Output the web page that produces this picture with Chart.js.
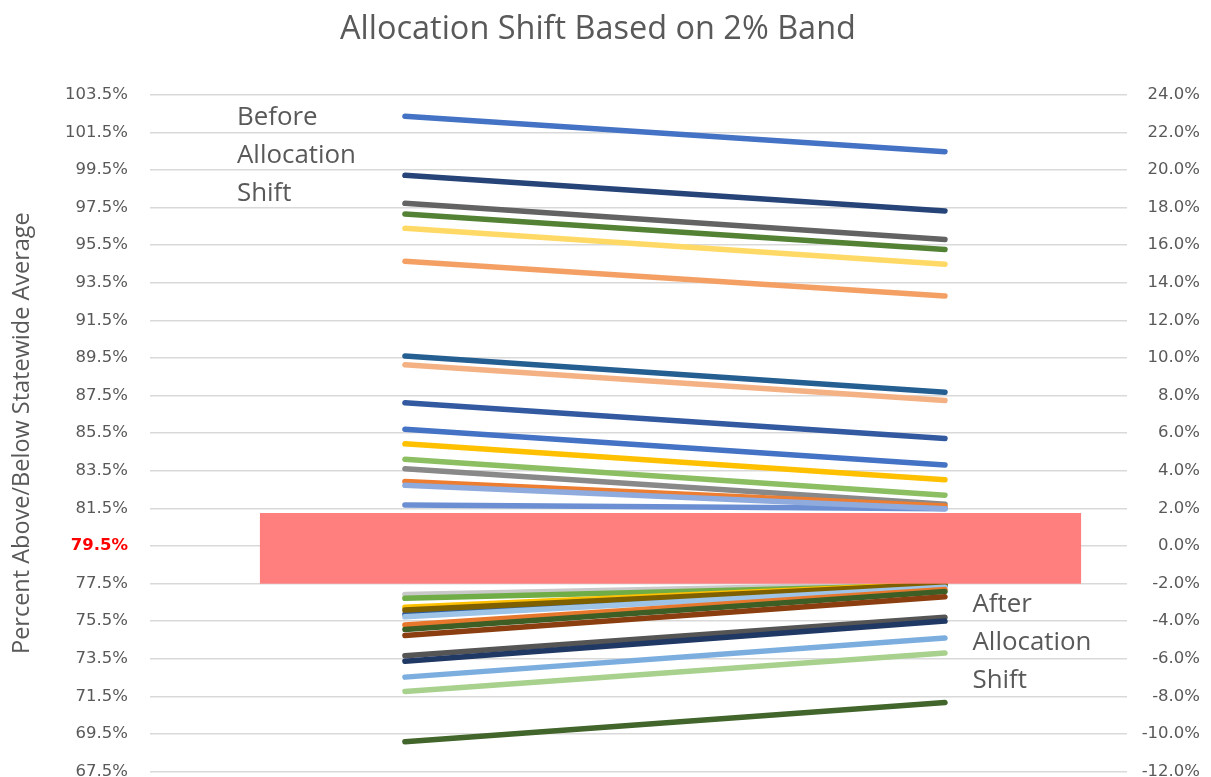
<!DOCTYPE html>
<html><head><meta charset="utf-8">
<script src="https://cdn.jsdelivr.net/npm/chart.js@4"></script>
<style>
html,body{margin:0;padding:0;overflow:hidden;background:#fff;width:1211px;height:777px}
#c{position:absolute;left:0;top:0;width:1211px;height:777px}
</style>
</head><body><canvas id="c" width="1211" height="777"></canvas>
<script>
// ---- data ----
const categories = ['Before Allocation Shift', 'After Allocation Shift'];
const chartTitle = 'Allocation Shift Based on 2% Band';
const yAxisTitle = 'Percent Above/Below Statewide Average';
// values on the left axis (percent of statewide average), listed in drawing order (later on top)
const beforeValues = [
  102.36, 99.21, 97.72, 97.16, 96.39, 94.64, 89.60, 89.14, 87.12, 85.71, 84.93, 84.11, 83.61, 82.93, 81.68, 82.72,
  76.92, 76.71, 76.24, 75.86, 76.09, 75.73, 75.29, 75.05, 74.73, 73.66, 73.36, 72.52, 71.76, 69.08
];
const afterValues = [
  100.47, 97.32, 95.80, 95.26, 94.48, 92.79, 87.67, 87.23, 85.21, 83.80, 83.02, 82.20, 81.72, 81.62, 81.48, 81.48,
  77.50, 77.42, 77.50, 77.38, 77.47, 77.30, 77.18, 77.08, 76.80, 75.71, 75.50, 74.60, 73.80, 71.17
];
const seriesColors = [
  '#4472C4', '#264478', '#636363', '#548235', '#FFD966', '#F4A064', '#255E91', '#F4B183', '#3359A1', '#4472C4',
  '#FFC000', '#8BBF62', '#898989', '#ED7D31', '#6B8FD2', '#8FAADC',
  '#C9C9C9', '#70AD47', '#FFC000', '#2E5E9E', '#7F6000', '#9DC3E6', '#E8772E', '#3D5F26', '#8B3E10',
  '#555555', '#1F3864', '#7BAEDF', '#A8D18D', '#41652A'
];
const leftAxis = {min: 67.5, max: 103.5, step: 2};
const rightAxis = {min: -12, max: 24, step: 2};
const highlightTick = 79.5;
const bandRange = [77.49, 81.25];   // red band shape (left-axis units)

// ---- helpers ----
const mctx = document.createElement('canvas').getContext('2d');
function fitSize(text, family, weight, target) {
  mctx.font = weight + ' 100px ' + family;
  return 100 * target / mctx.measureText(text).width;
}
const SANS = "'Open Sans', 'DejaVu Sans', sans-serif";
const TICKF = "'DejaVu Sans', 'Open Sans', sans-serif";
const titleSize = fitSize(chartTitle, SANS, 'normal', 516);
const yTitleSize = fitSize(yAxisTitle, SANS, 'normal', 442);
const noteSize = fitSize('Allocation', SANS, 'normal', 119);

const datasets = seriesColors.map((c, i) => ({
  data: categories.map((_, j) => ({x: j, y: j === 0 ? beforeValues[i] : afterValues[i]})),
  borderColor: c,
  backgroundColor: c,
  borderWidth: 5.5,
  borderCapStyle: 'round',
  pointRadius: 0,
  pointHoverRadius: 0,
  tension: 0,
  fill: false,
  yAxisID: 'y'
})).reverse();

const overlayPlugin = {
  id: 'overlay',
  afterDatasetsDraw(chart) {
    const ctx = chart.ctx;
    const xs = chart.scales.x, ys = chart.scales.y;
    ctx.save();
    const x0 = xs.getPixelForValue(-0.2685), x1 = xs.getPixelForValue(1.252);
    const y0 = ys.getPixelForValue(bandRange[1]), y1 = ys.getPixelForValue(bandRange[0]);
    ctx.fillStyle = '#FF7F7F';
    ctx.fillRect(x0, y0, x1 - x0, y1 - y0);
    ctx.fillStyle = '#595959';
    ctx.font = 'normal ' + noteSize.toFixed(2) + 'px ' + SANS;
    ctx.textAlign = 'left';
    ctx.textBaseline = 'alphabetic';
    categories[0].split(' ').forEach((w, k) => ctx.fillText(w, 237, 124.5 + k * 38.3));
    categories[1].split(' ').forEach((w, k) => ctx.fillText(w, 972.5, 611.7 + k * 38.3));
    ctx.restore();
  },
  afterDraw(chart) {
    const ctx = chart.ctx;
    ctx.save();
    ctx.fillStyle = '#595959';
    ctx.font = 'normal ' + titleSize.toFixed(2) + 'px ' + SANS;
    ctx.textAlign = 'center';
    ctx.textBaseline = 'alphabetic';
    ctx.fillText(chartTitle, 598, 39);
    ctx.restore();
  }
};

const pct = v => Number(v).toFixed(1) + '%';
const isHi = ctx => ctx.tick && Math.abs(ctx.tick.value - highlightTick) < 1e-6;

new Chart(document.getElementById('c'), {
  type: 'line',
  data: {datasets},
  plugins: [overlayPlugin],
  options: {
    responsive: false,
    devicePixelRatio: 1,
    animation: false,
    events: [],
    layout: {padding: {top: 94.7, bottom: 5.5, left: 0, right: 11}},
    plugins: {legend: {display: false}, tooltip: {enabled: false}, title: {display: false}},
    scales: {
      x: {type: 'linear', min: -0.472, max: 1.337, display: false},
      y: {
        position: 'left', min: leftAxis.min, max: leftAxis.max,
        ticks: {
          stepSize: leftAxis.step, padding: 0, autoSkip: false,
          callback: pct,
          color: ctx => isHi(ctx) ? '#FF0000' : '#595959',
          font: ctx => ({family: TICKF, size: 16.5, lineHeight: 0.6, weight: isHi(ctx) ? 'bold' : 'normal'})
        },
        grid: {color: '#D9D9D9', lineWidth: 1.5, drawTicks: true, tickLength: 22, tickColor: 'rgba(0,0,0,0)'},
        border: {display: false},
        title: {
          display: true, text: yAxisTitle, color: '#595959',
          font: {family: SANS, size: yTitleSize, lineHeight: 1.2},
          padding: {top: 22 - yTitleSize * 0.6, bottom: 0}
        },
        afterFit: s => { s.width = 150; }
      },
      y2: {
        position: 'right', min: rightAxis.min, max: rightAxis.max,
        ticks: {
          stepSize: rightAxis.step, crossAlign: 'far', autoSkip: false, padding: 0,
          callback: pct, color: '#595959', font: {family: TICKF, size: 16.5, lineHeight: 0.6}
        },
        grid: {display: false, drawTicks: false},
        border: {display: false},
        afterFit: s => { s.width = 73; }
      }
    }
  }
});
</script>
</body></html>
